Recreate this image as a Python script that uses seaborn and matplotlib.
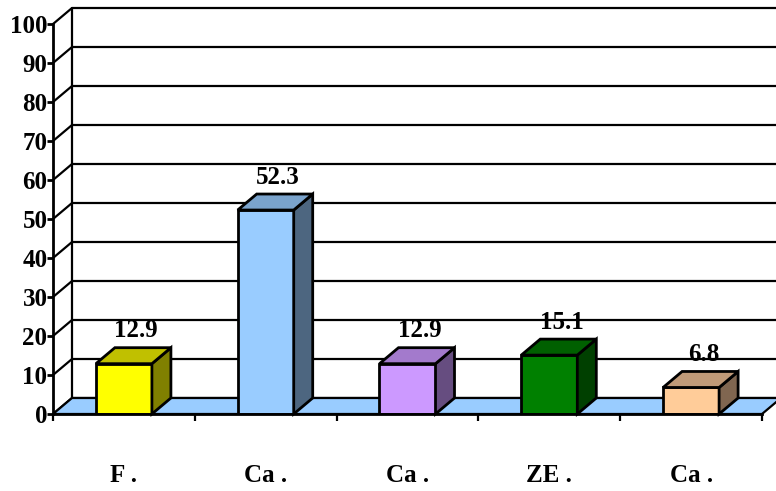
import numpy as np
import pandas as pd
import matplotlib
matplotlib.use("Agg")
import matplotlib.pyplot as plt
import seaborn as sns
from matplotlib.patches import Polygon

# ---- data ----
categories = ["F .", "Ca .", "Ca .", "ZE .", "Ca ."]
values = [12.9, 52.3, 12.9, 15.1, 6.8]
yticks = list(range(0, 101, 10))

# ---- styles ----
front_colors = ["#FFFF00", "#99CCFF", "#CC99FF", "#008000", "#FFCC99"]
top_colors = ["#C0C000", "#7AA3CC", "#A37ACC", "#006000", "#C09A78"]
side_colors = ["#808000", "#4D6680", "#664D80", "#004000", "#806650"]
floor_color = "#99CCFF"
LW = 1.6
BLW = 2.0
FONT = dict(family="Liberation Serif", weight="bold", size=18, color="black")

sns.set_theme(style="white")
plt.rcParams["font.family"] = ["Liberation Serif", "DejaVu Serif"]
plt.rcParams["text.color"] = "black"
plt.rcParams["xtick.color"] = "black"
plt.rcParams["ytick.color"] = "black"

fig = plt.figure(figsize=(7.76, 4.91), dpi=100)
ax = fig.add_axes([53 / 776, 77 / 491, 709 / 776, 390 / 491])

ids = [str(i) for i in range(len(values))]
df = pd.DataFrame({"id": ids, "value": values})
sns.barplot(data=df, x="id", y="value", hue="id", order=ids,
            palette=dict(zip(ids, front_colors)), legend=False, saturation=1,
            width=0.395, edgecolor="black", linewidth=BLW, ax=ax, zorder=4)

ax.set_xlim(-0.5, len(values) - 0.5)
ax.set_ylim(0, 100)

# depth offset (pixels -> data units)
p0 = ax.transData.transform((0, 0))
inv = ax.transData.inverted()
ddx, ddy = inv.transform(p0 + np.array([19, 16])) - inv.transform(p0)
px_y = (inv.transform(p0 + np.array([0, 1])) - inv.transform(p0))[1]

# back wall gridlines with left-wall diagonals
for v in yticks:
    ax.plot([-0.5, -0.5 + ddx, len(values) + 1], [v, v + ddy, v + ddy],
            color="black", lw=LW, clip_on=False, zorder=1,
            solid_capstyle="butt")
ax.plot([-0.5 + ddx, -0.5 + ddx], [ddy, 100 + ddy], color="black", lw=LW,
        clip_on=False, zorder=1)

# floor
n = len(values)
floor = Polygon([(-0.5, 0), (n - 0.5, 0), (n - 0.5 + ddx, ddy), (-0.5 + ddx, ddy)],
                closed=True, facecolor=floor_color, edgecolor="black", lw=LW,
                clip_on=False, zorder=2)
ax.add_patch(floor)

# 3D top and side faces of bars
w = 0.395
for i, v in enumerate(values):
    xl, xr = i - w / 2, i + w / 2
    top = Polygon([(xl, v), (xr, v), (xr + ddx, v + ddy), (xl + ddx, v + ddy)],
                  closed=True, facecolor=top_colors[i], edgecolor="black",
                  lw=BLW, clip_on=False, zorder=4, joinstyle="miter")
    side = Polygon([(xr, 0), (xr + ddx, ddy), (xr + ddx, v + ddy), (xr, v)],
                   closed=True, facecolor=side_colors[i], edgecolor="black",
                   lw=BLW, clip_on=False, zorder=4, joinstyle="miter")
    ax.add_patch(side)
    ax.add_patch(top)
    ax.text(i + ddx / 2 + 0.02, v + ddy + 17 * px_y, f"{v}", ha="center",
            va="center", zorder=6, **FONT)

# axes spines
for s in ["top", "right"]:
    ax.spines[s].set_visible(False)
for s in ["left", "bottom"]:
    ax.spines[s].set_visible(True)
    ax.spines[s].set_color("black")
    ax.spines[s].set_linewidth(BLW)
    ax.spines[s].set_zorder(5)

ax.set_yticks(yticks)
ax.set_yticklabels([str(t) for t in yticks], fontdict=FONT)
ax.tick_params(axis="y", direction="out", length=4, width=BLW, color="black",
               labelcolor="black", pad=0, left=True)

ax.set_xticks(np.arange(-0.5, n, 1.0))
ax.set_xticklabels([""] * (n + 1))
ax.tick_params(axis="x", which="major", direction="out", length=5, width=LW,
               color="black", bottom=True)
ax.set_xticks(np.arange(n), minor=True)
ax.set_xticklabels(categories, minor=True, fontdict=FONT)
ax.tick_params(axis="x", which="minor", length=0, pad=36, labelcolor="black")
ax.set_xlabel("")
ax.set_ylabel("")
ax.grid(False)
ax.set_facecolor("white")
ax.patch.set_alpha(0)

fig.savefig("out.png", dpi=100)
